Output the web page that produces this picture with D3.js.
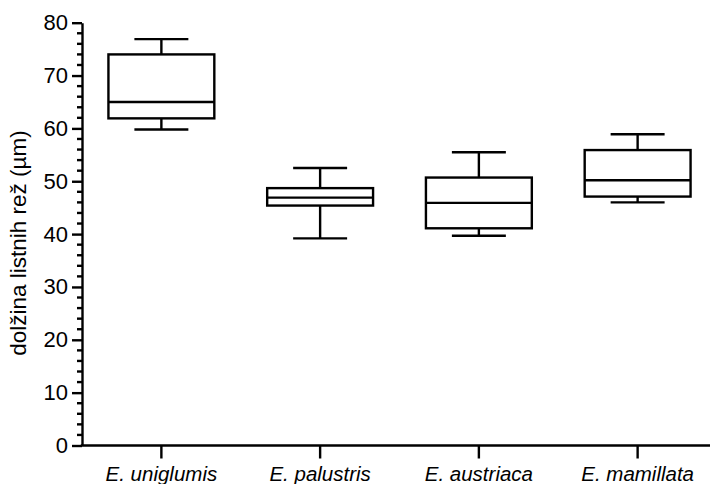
<!DOCTYPE html>
<html><head><meta charset="utf-8">
<script src="https://cdn.jsdelivr.net/npm/d3@7"></script>
<style>body{margin:0;background:#fff}svg{display:block}</style>
</head><body>
<svg id="c" width="710" height="484"></svg>
<script>
const categories = ["E. uniglumis", "E. palustris", "E. austriaca", "E. mamillata"];
const whiskerLow = [59.8, 39.2, 39.7, 46.0];
const q1 = [61.9, 45.4, 41.1, 47.1];
const median = [65.0, 46.9, 45.9, 50.2];
const q3 = [74.0, 48.7, 50.7, 55.9];
const whiskerHigh = [76.9, 52.5, 55.5, 58.9];
const yTicks = [0, 10, 20, 30, 40, 50, 60, 70, 80];
const yTitle = "dolžina listnih rež (µm)";

const svg = d3.select("#c");
const font = "'Liberation Sans', Arial, sans-serif";
const y = d3.scaleLinear().domain([0, 80]).range([445.5, 22.7]);
const x = d3.scalePoint().domain(categories).range([82, 717]).padding(0.5);
const step = x.step();
const boxW = step * 0.667, capW = step * 0.34;
const sw = 2.4;

// y axis
const yAxis = d3.axisLeft(y).tickValues(yTicks).tickSize(10).tickPadding(4).tickSizeOuter(0);
const gy = svg.append("g").attr("transform", "translate(82,0)").call(yAxis);
gy.select(".domain").attr("stroke", "#000").attr("stroke-width", sw);
gy.selectAll(".tick line").attr("stroke", "#000").attr("stroke-width", sw);
gy.selectAll(".tick text").attr("font-family", font).attr("font-size", 22).attr("fill", "#000");
// minor ticks
const minor = d3.range(0, 81, 2).filter(v => v % 10 !== 0);
svg.append("g").selectAll("line").data(minor).join("line")
  .attr("x1", 77).attr("x2", 82).attr("y1", d => y(d)).attr("y2", d => y(d))
  .attr("stroke", "#000").attr("stroke-width", sw);

// x axis
svg.append("line").attr("x1", 82 - sw/2).attr("x2", 710).attr("y1", y(0)).attr("y2", y(0))
  .attr("stroke", "#000").attr("stroke-width", sw);
svg.append("g").selectAll("line").data(categories).join("line")
  .attr("x1", d => x(d)).attr("x2", d => x(d)).attr("y1", y(0)).attr("y2", y(0) + 13)
  .attr("stroke", "#000").attr("stroke-width", sw);
svg.append("g").selectAll("text").data(categories).join("text")
  .attr("x", d => x(d)).attr("y", 481).attr("text-anchor", "middle")
  .attr("font-family", font).attr("font-size", 20.5).attr("font-style", "italic").text(d => d);

// y title
svg.append("text").attr("transform", "translate(26," + 243 + ") rotate(-90)")
  .attr("text-anchor", "middle").attr("font-family", font).attr("font-size", 22.5).text(yTitle);

// boxes
const g = svg.append("g").attr("stroke", "#000").attr("stroke-width", sw).attr("fill", "none");
categories.forEach((c, i) => {
  const cx = x(c);
  g.append("line").attr("x1", cx).attr("x2", cx).attr("y1", y(whiskerHigh[i])).attr("y2", y(q3[i]));
  g.append("line").attr("x1", cx).attr("x2", cx).attr("y1", y(q1[i])).attr("y2", y(whiskerLow[i]));
  g.append("line").attr("x1", cx - capW/2).attr("x2", cx + capW/2).attr("y1", y(whiskerHigh[i])).attr("y2", y(whiskerHigh[i]));
  g.append("line").attr("x1", cx - capW/2).attr("x2", cx + capW/2).attr("y1", y(whiskerLow[i])).attr("y2", y(whiskerLow[i]));
  g.append("rect").attr("x", cx - boxW/2).attr("width", boxW).attr("y", y(q3[i])).attr("height", y(q1[i]) - y(q3[i]));
  g.append("line").attr("x1", cx - boxW/2).attr("x2", cx + boxW/2).attr("y1", y(median[i])).attr("y2", y(median[i]));
});
</script>
</body></html>
